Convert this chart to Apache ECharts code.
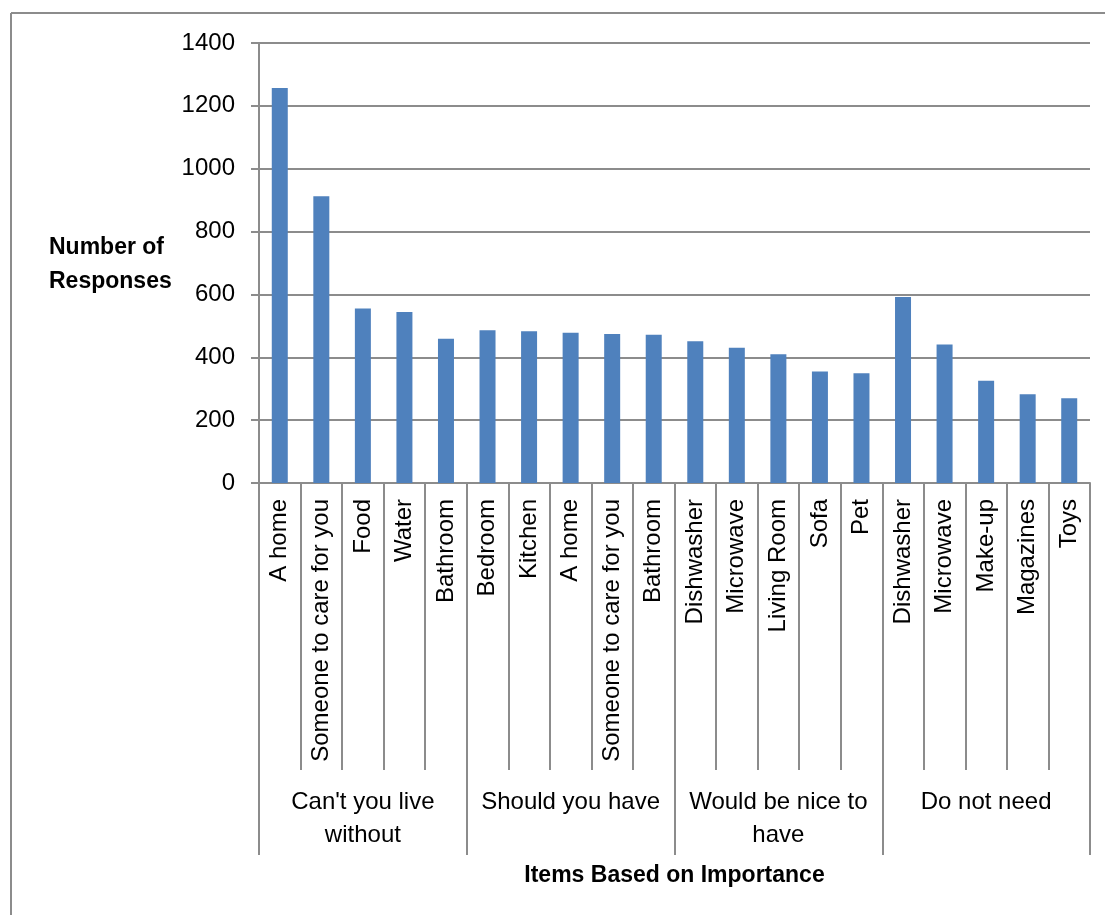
<!DOCTYPE html>
<html>
<head>
<meta charset="utf-8">
<script src="https://cdn.jsdelivr.net/npm/echarts@6/dist/echarts.min.js"></script>
<style>
  html, body { margin: 0; padding: 0; background: #ffffff; }
  #chart { width: 1105px; height: 915px; }
</style>
</head>
<body>
<div id="chart"></div>
<script>
// Items, grouped by importance (5 per group)
const items = [
  'A home', 'Someone to care for you', 'Food', 'Water', 'Bathroom',
  'Bedroom', 'Kitchen', 'A home', 'Someone to care for you', 'Bathroom',
  'Dishwasher', 'Microwave', 'Living Room', 'Sofa', 'Pet',
  'Dishwasher', 'Microwave', 'Make-up', 'Magazines', 'Toys'
];
const groups = ["Can't you live\nwithout", 'Should you have', 'Would be nice to\nhave', 'Do not need'];
const responses = [
  1257, 912, 555, 544, 459,
  486, 483, 478, 474, 472,
  451, 430, 410, 355, 349,
  592, 441, 325, 282, 270
];
const yTicks = { min: 0, max: 1400, step: 200 };

const FONT = '"Liberation Sans", Arial, sans-serif';
const GRAY = '#8c8c8c';
const BAR = '#4f81bd';

const chart = echarts.init(document.getElementById('chart'), null, { renderer: 'canvas' });

const option = {
  backgroundColor: '#ffffff',
  animation: false,
  textStyle: { fontFamily: FONT, color: '#000' },
  grid: { left: 259, right: 15, top: 43, bottom: 432, containLabel: false },
  xAxis: [
    {
      type: 'category',
      data: items,
      position: 'bottom',
      axisLine: { show: true, lineStyle: { color: GRAY, width: 2 } },
      axisTick: { show: true, interval: 0, length: 287, lineStyle: { color: GRAY, width: 2 } },
      axisLabel: {
        interval: 0, rotate: 90, margin: 16,
        fontFamily: FONT, fontSize: 24, color: '#000'
      }
    },
    {
      type: 'category',
      data: groups,
      position: 'bottom',
      axisLine: { show: false },
      axisTick: { show: true, interval: 0, length: 372, lineStyle: { color: GRAY, width: 2 } },
      axisLabel: {
        interval: 0, margin: 303,
        fontFamily: FONT, fontSize: 24, lineHeight: 33, color: '#000', align: 'center'
      },
      name: 'Items Based on Importance',
      nameLocation: 'middle',
      nameGap: 381,
      nameTextStyle: { fontFamily: FONT, fontSize: 23, fontWeight: 'bold', color: '#000' }
    }
  ],
  yAxis: {
    type: 'value',
    min: yTicks.min,
    max: yTicks.max,
    interval: yTicks.step,
    axisLine: { show: true, lineStyle: { color: GRAY, width: 2 } },
    axisTick: { show: true, inside: false, length: 8, lineStyle: { color: GRAY, width: 2 } },
    axisLabel: {
      fontFamily: FONT, fontSize: 24, color: '#000', margin: 24,
      formatter: (v) => String(v)
    },
    splitLine: { show: true, lineStyle: { color: GRAY, width: 2 } }
  },
  graphic: [
    // outer chart frame (top and left edges visible)
    { type: 'line', shape: { x1: 11, y1: 13, x2: 1105, y2: 13 }, style: { stroke: GRAY, lineWidth: 2 } },
    { type: 'line', shape: { x1: 11, y1: 13, x2: 11, y2: 915 }, style: { stroke: GRAY, lineWidth: 2 } },
    {
      type: 'text', left: 49, top: 231,
      style: {
        text: 'Number of\nResponses', fill: '#000',
        font: 'bold 23px ' + FONT, lineHeight: 34, align: 'center'
      }
    }
  ],
  series: [{
    type: 'bar',
    xAxisIndex: 0,
    data: responses,
    barWidth: 16,
    itemStyle: { color: BAR }
  }]
};

chart.setOption(option);
</script>
</body>
</html>
